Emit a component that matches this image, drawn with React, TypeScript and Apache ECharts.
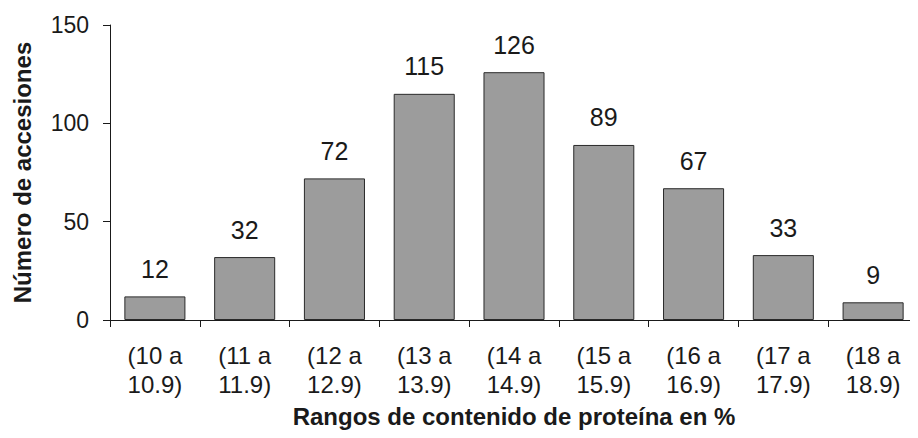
import React, { useEffect, useRef } from "react";
import * as echarts from "echarts";

const categories = [
  "(10 a\n10.9)",
  "(11 a\n11.9)",
  "(12 a\n12.9)",
  "(13 a\n13.9)",
  "(14 a\n14.9)",
  "(15 a\n15.9)",
  "(16 a\n16.9)",
  "(17 a\n17.9)",
  "(18 a\n18.9)",
];
const values = [12, 32, 72, 115, 126, 89, 67, 33, 9];
const yTicks = { min: 0, max: 150, interval: 50 };

const FONT = "'Liberation Sans', Arial, sans-serif";

export default function App() {
  const ref = useRef<HTMLDivElement>(null);
  useEffect(() => {
    const chart = echarts.init(ref.current!, null, { renderer: "svg" });
    chart.setOption({
      animation: false,
      backgroundColor: "#ffffff",
      grid: { left: 110, right: -8, top: 25, bottom: 118, containLabel: false },
      xAxis: {
        type: "category",
        data: categories,
        name: "Rangos de contenido de proteína en %",
        nameLocation: "middle",
        nameGap: 84,
        nameTextStyle: { fontFamily: FONT, fontSize: 24, fontWeight: "bold", color: "#1a1a1a" },
        axisLine: { lineStyle: { color: "#1a1a1a", width: 1 } },
        axisTick: { show: true, length: 7, lineStyle: { color: "#1a1a1a" } },
        axisLabel: {
          fontFamily: FONT,
          fontSize: 24,
          color: "#1a1a1a",
          margin: 21,
          lineHeight: 29,
          interval: 0,
        },
      },
      yAxis: {
        type: "value",
        min: yTicks.min,
        max: yTicks.max,
        interval: yTicks.interval,
        name: "Número de accesiones",
        nameLocation: "middle",
        nameGap: 76,
        nameTextStyle: { fontFamily: FONT, fontSize: 24, fontWeight: "bold", color: "#1a1a1a" },
        axisLine: { show: true, lineStyle: { color: "#1a1a1a", width: 1 } },
        axisTick: { show: true, length: 7, lineStyle: { color: "#1a1a1a" } },
        splitLine: { show: false },
        axisLabel: { fontFamily: FONT, fontSize: 23, color: "#1a1a1a", margin: 21 },
      },
      series: [
        {
          type: "bar",
          data: values,
          barCategoryGap: "32%",
          itemStyle: { color: "#9c9c9c", borderColor: "#2a2a2a", borderWidth: 1 },
          label: {
            show: true,
            position: "top",
            distance: 15,
            fontFamily: FONT,
            fontSize: 25,
            color: "#1a1a1a",
          },
        },
      ],
    });
    return () => chart.dispose();
  }, []);
  return <div ref={ref} style={{ width: 918, height: 438, margin: -8 }} />;
}
